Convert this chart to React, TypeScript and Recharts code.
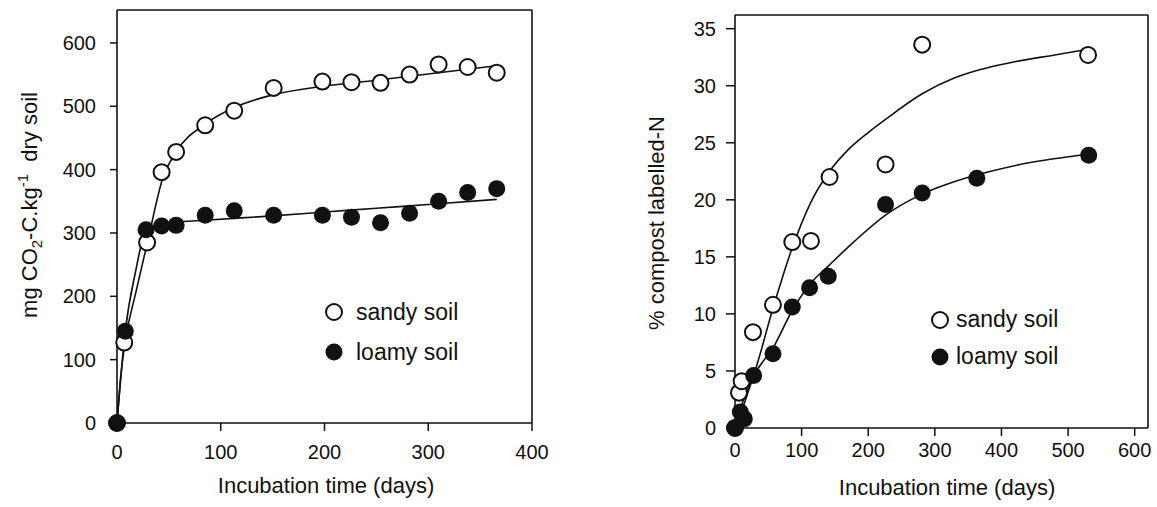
import React from 'react';
import { ComposedChart, Scatter, Line, XAxis, YAxis, Legend, Label, ReferenceLine } from 'recharts';

const FONT = '"Liberation Sans", Arial, Helvetica, sans-serif';
const INK = '#111';

const legendLabels = ['sandy soil', 'loamy soil'];
const xTitle = 'Incubation time (days)';

// ---- Left panel: cumulative CO2-C (mg CO2-C / kg dry soil) ----
const co2XTicks = [0, 100, 200, 300, 400];
const co2YTicks = [0, 100, 200, 300, 400, 500, 600];
const co2XMax = 400;
const co2YMax = 652;
const co2SandyDays = [0, 7, 29, 43, 57, 85, 113, 151, 198, 226, 254, 282, 310, 338, 366];
const co2SandyValues = [0, 127, 285, 396, 428, 470, 493, 529, 539, 538, 537, 550, 566, 562, 553];
const co2LoamyDays = [0, 8, 28, 43, 57, 85, 113, 151, 198, 226, 254, 282, 310, 338, 366];
const co2LoamyValues = [0, 145, 305, 311, 312, 328, 335, 328, 328, 325, 316, 331, 350, 364, 370];
const co2SandyFitDays = [0, 4, 8, 18, 30, 44, 57, 85, 113, 150, 200, 250, 300, 366];
const co2SandyFitValues = [0, 80, 130, 205, 290, 386, 428, 472, 498, 518, 532, 541, 551, 564];
const co2LoamyFitDays = [0, 8, 18, 27, 35, 45, 85, 150, 200, 250, 300, 366];
const co2LoamyFitValues = [0, 145, 240, 300, 310, 315, 320, 327, 333, 339, 345, 353];

// ---- Right panel: % compost labelled-N ----
const nXTicks = [0, 100, 200, 300, 400, 500, 600];
const nYTicks = [0, 5, 10, 15, 20, 25, 30, 35];
const nXMax = 620;
const nYMax = 36.2;
const nSandyDays = [0, 6, 10, 27, 57, 86, 114, 142, 226, 281, 530];
const nSandyValues = [0, 3.1, 4.1, 8.4, 10.8, 16.3, 16.4, 22.0, 23.1, 33.6, 32.7];
const nLoamyDays = [0, 8, 14, 28, 57, 86, 112, 140, 226, 281, 363, 531];
const nLoamyValues = [0, 1.4, 0.8, 4.6, 6.5, 10.6, 12.3, 13.3, 19.6, 20.6, 21.9, 23.9];
const nSandyFitDays = [0, 10, 30, 57, 86, 114, 142, 170, 200, 227, 281, 330, 367, 420, 480, 530];
const nSandyFitValues = [0, 2.0, 5.0, 10.5, 15.8, 19.8, 22.5, 24.4, 25.9, 27.1, 29.3, 30.7, 31.4, 32.1, 32.7, 33.2];
const nLoamyFitDays = [0, 10, 28, 57, 86, 114, 142, 180, 227, 281, 330, 384, 437, 530];
const nLoamyFitValues = [0, 1.5, 4.5, 7.0, 10.3, 12.7, 14.3, 16.4, 18.7, 20.5, 21.6, 22.5, 23.2, 24.0];

const zip = (xs: number[], ys: number[]) => xs.map((x, i) => ({ x, y: ys[i] }));

const OpenDot = (p: any) => (
  <circle cx={p.cx} cy={p.cy} r={8} fill="#fff" stroke={INK} strokeWidth={2} />
);
const FilledDot = (p: any) => <circle cx={p.cx} cy={p.cy} r={8.5} fill={INK} />;

const makeLegend = (gap: number, rowH: number) => () => (
  <div style={{ fontFamily: FONT, fontSize: 23, color: INK }}>
    {legendLabels.map((label, i) => (
      <div key={label} style={{ display: 'flex', alignItems: 'center', height: rowH }}>
        <svg width={18} height={18} style={{ display: 'block' }}>
          {i === 0 ? (
            <circle cx={9} cy={9} r={8} fill="#fff" stroke={INK} strokeWidth={2} />
          ) : (
            <circle cx={9} cy={9} r={8.5} fill={INK} />
          )}
        </svg>
        <span style={{ marginLeft: gap, lineHeight: 1, whiteSpace: 'nowrap' }}>{label}</span>
      </div>
    ))}
  </div>
);

const makeXTitle = (cx: number, baseline: number) => () => (
  <text x={cx} y={baseline} textAnchor="middle" fontSize={22} fontFamily={FONT} fill={INK}>
    {xTitle}
  </text>
);

const CO2YTitle = () => (
  <text x={37} y={205} transform="rotate(-90 37 205)" textAnchor="middle" fontSize={22} fontFamily={FONT} fill={INK}>
    mg CO<tspan fontSize={15} dy={5}>2</tspan>
    <tspan dy={-5}>-C.kg</tspan>
    <tspan fontSize={15} dy={-9}>-1</tspan>
    <tspan dy={9}>{'\u00A0 dry soil'}</tspan>
  </text>
);

const NYTitle = () => (
  <text x={64} y={223} transform="rotate(-90 64 223)" textAnchor="middle" fontSize={22} fontFamily={FONT} fill={INK}>
    % compost labelled-N
  </text>
);

const tickStyle = { fill: INK, fontSize: 20, fontFamily: FONT };
const axisLine = { stroke: INK, strokeWidth: 1.6 };
const tickLine = { stroke: INK, strokeWidth: 1.5 };

export default function App() {
  return (
    <div style={{ position: 'absolute', left: 0, top: 0, width: 1157, height: 507, background: '#fff' }}>
      <div style={{ position: 'absolute', left: 0, top: 0 }}>
        <ComposedChart width={560} height={507} margin={{ top: 10, right: 28, bottom: 0, left: 0 }}>
          <XAxis
            dataKey="x"
            type="number"
            domain={[0, co2XMax]}
            ticks={co2XTicks}
            height={84}
            tickSize={8}
            tickMargin={14}
            tick={tickStyle}
            axisLine={axisLine}
            tickLine={tickLine}
          >
            <Label content={makeXTitle(326, 493)} />
          </XAxis>
          <YAxis
            dataKey="y"
            type="number"
            domain={[0, co2YMax]}
            ticks={co2YTicks}
            width={117}
            tickSize={7}
            tickMargin={14}
            tick={tickStyle}
            axisLine={axisLine}
            tickLine={tickLine}
          >
            <Label content={CO2YTitle} />
          </YAxis>
          <ReferenceLine y={co2YMax} stroke={INK} strokeWidth={1.6} ifOverflow="visible" />
          <ReferenceLine x={co2XMax} stroke={INK} strokeWidth={1.6} ifOverflow="visible" />
          <Scatter name={legendLabels[0]} data={zip(co2SandyDays, co2SandyValues)} dataKey="y" shape={OpenDot} isAnimationActive={false} />
          <Scatter name={legendLabels[1]} data={zip(co2LoamyDays, co2LoamyValues)} dataKey="y" shape={FilledDot} isAnimationActive={false} />
          <Line data={zip(co2SandyFitDays, co2SandyFitValues)} dataKey="y" type="monotone" stroke={INK} strokeWidth={1.6} dot={false} activeDot={false} legendType="none" isAnimationActive={false} />
          <Line data={zip(co2LoamyFitDays, co2LoamyFitValues)} dataKey="y" type="monotone" stroke={INK} strokeWidth={1.6} dot={false} activeDot={false} legendType="none" isAnimationActive={false} />
          <Legend
            layout="vertical"
            align="center"
            verticalAlign="middle"
            content={makeLegend(13, 40)}
            wrapperStyle={{ left: 325, top: 292, width: 'auto', height: 'auto' }}
          />
        </ComposedChart>
      </div>
      <div style={{ position: 'absolute', left: 600, top: 0 }}>
        <ComposedChart width={557} height={507} margin={{ top: 15, right: 9, bottom: 0, left: 0 }}>
          <XAxis
            dataKey="x"
            type="number"
            domain={[0, nXMax]}
            ticks={nXTicks}
            height={79}
            tickSize={8}
            tickMargin={7}
            tick={tickStyle}
            axisLine={axisLine}
            tickLine={tickLine}
          >
            <Label content={makeXTitle(347, 495)} />
          </XAxis>
          <YAxis
            dataKey="y"
            type="number"
            domain={[0, nYMax]}
            ticks={nYTicks}
            width={135}
            tickSize={9}
            tickMargin={10}
            tick={tickStyle}
            axisLine={axisLine}
            tickLine={tickLine}
          >
            <Label content={NYTitle} />
          </YAxis>
          <ReferenceLine y={nYMax} stroke={INK} strokeWidth={1.6} ifOverflow="visible" />
          <ReferenceLine x={nXMax} stroke={INK} strokeWidth={1.6} ifOverflow="visible" />
          <Scatter name={legendLabels[0]} data={zip(nSandyDays, nSandyValues)} dataKey="y" shape={OpenDot} isAnimationActive={false} />
          <Scatter name={legendLabels[1]} data={zip(nLoamyDays, nLoamyValues)} dataKey="y" shape={FilledDot} isAnimationActive={false} />
          <Line data={zip(nSandyFitDays, nSandyFitValues)} dataKey="y" type="monotone" stroke={INK} strokeWidth={1.6} dot={false} activeDot={false} legendType="none" isAnimationActive={false} />
          <Line data={zip(nLoamyFitDays, nLoamyFitValues)} dataKey="y" type="monotone" stroke={INK} strokeWidth={1.6} dot={false} activeDot={false} legendType="none" isAnimationActive={false} />
          <Legend
            layout="vertical"
            align="center"
            verticalAlign="middle"
            content={makeLegend(7, 37)}
            wrapperStyle={{ left: 331, top: 301, width: 'auto', height: 'auto' }}
          />
        </ComposedChart>
      </div>
    </div>
  );
}
